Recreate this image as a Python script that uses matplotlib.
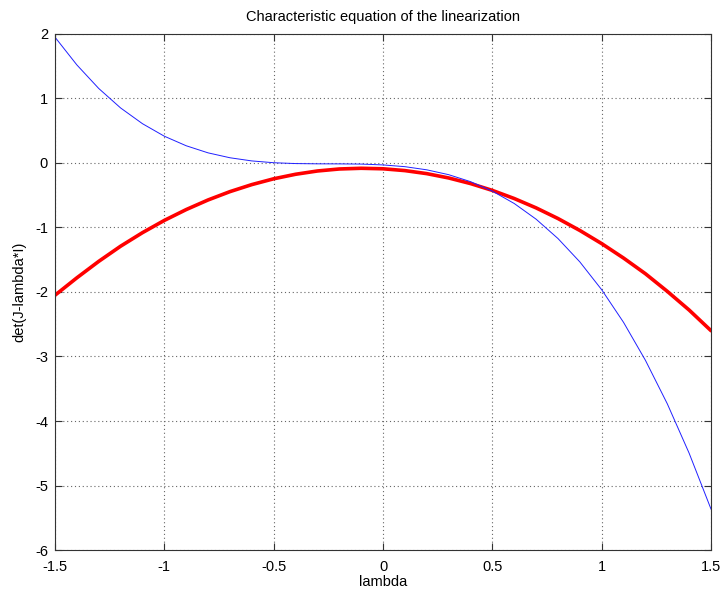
import matplotlib.pyplot as plt

plt.rcParams['font.family'] = ['Liberation Sans', 'DejaVu Sans']
plt.rcParams['axes.unicode_minus'] = False

# lambda samples and the two characteristic polynomials
lam = [-1.5, -1.4, -1.3, -1.2, -1.1, -1.0, -0.9, -0.8, -0.7, -0.6, -0.5,
       -0.4, -0.3, -0.2, -0.1, 0.0, 0.1, 0.2, 0.3, 0.4, 0.5,
       0.6, 0.7, 0.8, 0.9, 1.0, 1.1, 1.2, 1.3, 1.4, 1.5]

det_full = [1.95, 1.52, 1.155, 0.853, 0.609, 0.415, 0.267, 0.157, 0.081, 0.032, 0.004,
            -0.009, -0.013, -0.014, -0.017, -0.03, -0.057, -0.106, -0.181, -0.289, -0.436,
            -0.628, -0.871, -1.171, -1.533, -1.965, -2.471, -3.059, -3.733, -4.500, -5.366]

det_lin = [-2.05, -1.78, -1.525, -1.29, -1.08, -0.89, -0.722, -0.573, -0.444, -0.335, -0.245,
           -0.175, -0.124, -0.093, -0.082, -0.09, -0.118, -0.165, -0.232, -0.319, -0.425,
           -0.551, -0.696, -0.861, -1.046, -1.25, -1.474, -1.717, -1.99, -2.28, -2.6]

fig = plt.figure(figsize=(7.22, 5.93), dpi=100)
ax = fig.add_axes([0.0762, 0.0725, 0.9086, 0.8702])

ax.plot(lam, det_lin, color='red', linewidth=2.6, solid_capstyle='round',
        solid_joinstyle='round')
ax.plot(lam, det_full, color='#2020ff', linewidth=0.7)

ax.set_xlim(-1.5, 1.5)
ax.set_ylim(-6, 2)
ax.set_xticks([-1.5, -1, -0.5, 0, 0.5, 1, 1.5])
ax.set_xticklabels(['-1.5', '-1', '-0.5', '0', '0.5', '1', '1.5'])
ax.set_yticks(range(-6, 3))

ax.grid(True, linestyle=(0, (1, 2.5)), color='#666666', linewidth=0.8)
ax.tick_params(direction='in', top=True, right=True, length=5, labelsize=10.5,
               color='#333333')
ax.tick_params(axis='x', pad=7)
ax.tick_params(axis='y', pad=5)
for s in ax.spines.values():
    s.set_color('#333333')

ax.set_title('Characteristic equation of the linearization', fontsize=10.5, pad=9)
ax.set_xlabel('lambda', fontsize=10.5, labelpad=1)
ax.set_ylabel('det(J-lambda*I)', fontsize=10.5, labelpad=6)

fig.savefig('out.png', dpi=100)
